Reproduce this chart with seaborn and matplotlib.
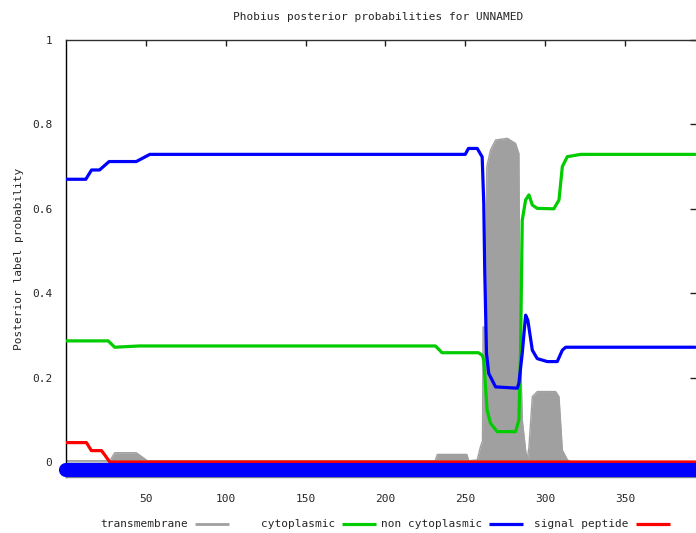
import matplotlib
matplotlib.use("Agg")
import matplotlib.pyplot as plt
import seaborn as sns
import pandas as pd
from matplotlib.lines import Line2D

# ---------------- data ----------------
title = "Phobius posterior probabilities for UNNAMED"
ylabel = "Posterior label probability"
seq_length = 394

x_ticks = [50, 100, 150, 200, 250, 300, 350]
y_ticks = [0, 0.2, 0.4, 0.6, 0.8, 1]
y_tick_labels = ["0", "0.2", "0.4", "0.6", "0.8", "1"]

# transmembrane (gray filled)
tm_x = [0, 27.5, 30.5, 44, 51, 231.2, 232.5, 251, 252.2, 257.5, 259.5, 260.8,
        261.2, 262.8, 263.5, 265.8, 269, 276.3, 281.5, 283.6, 284.2, 285.7,
        287.8, 288.8, 289.9, 292, 295.1, 306.6, 308.7, 310.8, 314, 316, 394]
tm_y = [0.003, 0.003, 0.022, 0.022, 0.003, 0.003, 0.018, 0.018, 0.003, 0.005,
        0.036, 0.05, 0.32, 0.32, 0.70, 0.739, 0.763, 0.767, 0.755, 0.731, 0.336,
        0.10, 0.028, 0.005, 0.036, 0.155, 0.167, 0.167, 0.155, 0.028, 0.005,
        0.001, 0.001]

# cytoplasmic (green)
cyt_x = [0, 26.4, 30.5, 46, 231.3, 235.5, 258.3, 260.6, 261.6, 262.7, 263.7,
         265.8, 270, 281.5, 283.6, 284.6, 285.7, 287.8, 289.9, 292, 295.1,
         305.5, 308.7, 310.8, 313.9, 322.3, 394]
cyt_y = [0.287, 0.287, 0.272, 0.275, 0.275, 0.259, 0.259, 0.253, 0.242, 0.178,
         0.123, 0.092, 0.072, 0.072, 0.0995, 0.258, 0.573, 0.621, 0.633, 0.609,
         0.601, 0.600, 0.621, 0.70, 0.7235, 0.729, 0.729]

# non cytoplasmic (blue)
ncyt_x = [0, 12.4, 16, 21, 27, 44, 52.5, 250, 252, 257.5, 260.6, 261.6, 262.2,
          263.3, 264.7, 269, 282.6, 283.6, 285.7, 287.8, 289.2, 292, 295.1,
          301.4, 307.6, 310.8, 312.9, 394]
ncyt_y = [0.670, 0.670, 0.692, 0.692, 0.712, 0.712, 0.729, 0.729, 0.743, 0.743,
          0.723, 0.613, 0.455, 0.258, 0.21, 0.178, 0.175, 0.187, 0.258, 0.348,
          0.336, 0.265, 0.245, 0.238, 0.238, 0.265, 0.272, 0.272]

# signal peptide (red)
sp_x = [0, 12.8, 15.9, 22.2, 24.3, 27.4, 394]
sp_y = [0.046, 0.046, 0.027, 0.027, 0.0166, 0.0, 0.0]

# predicted topology segments (start, end, label)
topo_start = [0]
topo_end = [394]
topo_label = ["non cytoplasmic"]

legend_labels = ["transmembrane", "cytoplasmic", "non cytoplasmic", "signal peptide"]
colors = {"transmembrane": "#a0a0a0", "cytoplasmic": "#00cc00",
          "non cytoplasmic": "#0000ff", "signal peptide": "#ff0000"}

# ---------------- plotting ----------------
sns.set_style("white")
plt.rcParams["font.family"] = ["DejaVu Sans Mono"]
plt.rcParams["font.size"] = 8
plt.rcParams["lines.solid_joinstyle"] = "round"
plt.rcParams["lines.solid_capstyle"] = "round"

W, H = 696, 533
fig = plt.figure(figsize=(W / 100, H / 100), dpi=100)
ax = fig.add_axes([66 / W, 1 - 477 / H, (W - 66) / W, (477 - 40) / H])

df_tm = pd.DataFrame({"pos": tm_x, "p": tm_y})
ax.fill_between(df_tm["pos"], 0, df_tm["p"], color=colors["transmembrane"], lw=0, zorder=2)
sns.lineplot(data=df_tm, x="pos", y="p", ax=ax, color=colors["transmembrane"], lw=1,
             zorder=2, estimator=None, sort=False)

for xs, ys, lab in [(cyt_x, cyt_y, "cytoplasmic"),
                    (ncyt_x, ncyt_y, "non cytoplasmic"),
                    (sp_x, sp_y, "signal peptide")]:
    d = pd.DataFrame({"pos": xs, "p": ys})
    sns.lineplot(data=d, x="pos", y="p", ax=ax, color=colors[lab], lw=2.3,
                 zorder=3, estimator=None, sort=False)

for s, e, lab in zip(topo_start, topo_end, topo_label):
    ax.plot([s, e + 1], [-0.019, -0.019], color=colors[lab], lw=10.2,
            solid_capstyle="round", clip_on=False, zorder=4)

ax.set_xlim(0, 394.5)
ax.set_ylim(-0.0355, 1.0)
ax.set_xticks(x_ticks)
ax.set_xticklabels([str(t) for t in x_ticks])
ax.set_yticks(y_ticks)
ax.set_yticklabels(y_tick_labels)
ax.set_xlabel("")
ax.set_ylabel(ylabel, fontsize=8, labelpad=6)
ax.tick_params(axis="both", direction="in", length=4, width=1, top=True, right=True,
               labelsize=8, color="#202020")
ax.tick_params(axis="x", pad=12)
ax.tick_params(axis="y", pad=10)

ax.spines["right"].set_visible(False)
ax.spines["left"].set_color("black")
ax.spines["top"].set_color("#303030")
ax.spines["bottom"].set_color("#888888")
for sp in ax.spines.values():
    sp.set_linewidth(1)

fig.text(378 / W, 1 - 17 / H, title, ha="center", va="center", fontsize=8)

# gnuplot-style key: right-justified text followed by a line sample
ly = 1 - 524 / H
for i, lab in enumerate(legend_labels):
    xe = 188 + i * 147
    fig.text(xe / W, ly, lab, ha="right", va="center", fontsize=8)
    fig.add_artist(Line2D([(xe + 7) / W, (xe + 41) / W], [ly, ly],
                          color=colors[lab], lw=2.3 if lab != "transmembrane" else 2.0,
                          solid_capstyle="butt", transform=fig.transFigure))

fig.savefig("out.png", dpi=100)
